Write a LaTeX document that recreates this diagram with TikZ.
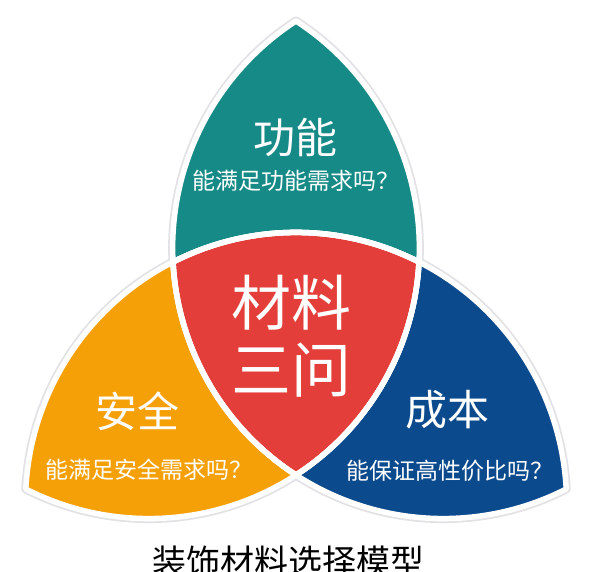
\documentclass[tikz,border=0pt]{standalone}
\usepackage{fontspec}
\newfontfamily\cjk{Noto Sans CJK SC}
\definecolor{cteal}{RGB}{22,138,134}
\definecolor{cred}{RGB}{228,62,58}
\definecolor{corange}{RGB}{246,160,8}
\definecolor{cblue}{RGB}{12,74,142}
\definecolor{chalo}{RGB}{226,226,230}
\begin{document}
\begin{tikzpicture}[x=1pt,y=1pt,
  halo/.style={draw=chalo,line width=9pt,line join=round},
  gap/.style={draw=white,line width=5.5pt,line join=round},
  head/.style={font=\cjk\fontsize{42}{46}\selectfont,text=white,inner sep=0pt},
  sub/.style={font=\cjk\fontsize{23}{27}\selectfont,text=white,inner sep=0pt},
  big/.style={font=\cjk\fontsize{60}{64}\selectfont,text=white,inner sep=0pt},
  ttl/.style={font=\cjk\fontsize{34}{38}\selectfont,text=black,inner sep=0pt}]
\useasboundingbox (-296,-238) rectangle (304,333);
\fill[white] (-296,-238) rectangle (304,333);
\def\r{270.56pt}
\coordinate (T) at (0,312);
\coordinate (Lt) at (-270.2,-156);
\coordinate (Rt) at (270.2,-156);
\coordinate (VUL) at (-122.98,71);
\def\tealpath{(T) arc[start angle=122.96,end angle=237.04,radius=\r] arc[start angle=-57.04,end angle=57.04,radius=\r] -- cycle}
\def\bluepath{(Rt) arc[start angle=2.96,end angle=117.04,radius=\r] arc[start angle=-177.04,end angle=-62.96,radius=\r] -- cycle}
\def\orangepath{(Lt) arc[start angle=242.96,end angle=357.04,radius=\r] arc[start angle=62.96,end angle=177.04,radius=\r] -- cycle}
\def\redpath{(VUL) arc[start angle=117.04,end angle=62.96,radius=\r] arc[start angle=-2.96,end angle=-57.04,radius=\r] arc[start angle=237.04,end angle=182.96,radius=\r] -- cycle}
% halo
\path[halo] \tealpath;
\path[halo] \bluepath;
\path[halo] \orangepath;
% fills
\fill[cteal] \tealpath;
\fill[cblue] \bluepath;
\fill[corange] \orangepath;
\fill[cred] \redpath;
% white gaps
\path[gap] \tealpath;
\path[gap] \bluepath;
\path[gap] \orangepath;
\path[gap] \redpath;
% texts
\node[head] (gn) at (0,195) {功能};
\node[sub] (gnq) at (0,152) {能满足功能需求吗？};
\node[big] (m1) at (-4,30) {材料};
\node[big] (m2) at (-4,-37) {三问};
\node[head] (aq) at (-158,-78) {安全};
\node[sub] (aqq) at (-147,-137) {能满足安全需求吗？};
\node[head] (cb) at (152,-77) {成本};
\node[sub] (cbq) at (154,-138) {能保证高性价比吗？};
\node[ttl] (title) at (-7,-229) {装饰材料选择模型};
\end{tikzpicture}
\end{document}
